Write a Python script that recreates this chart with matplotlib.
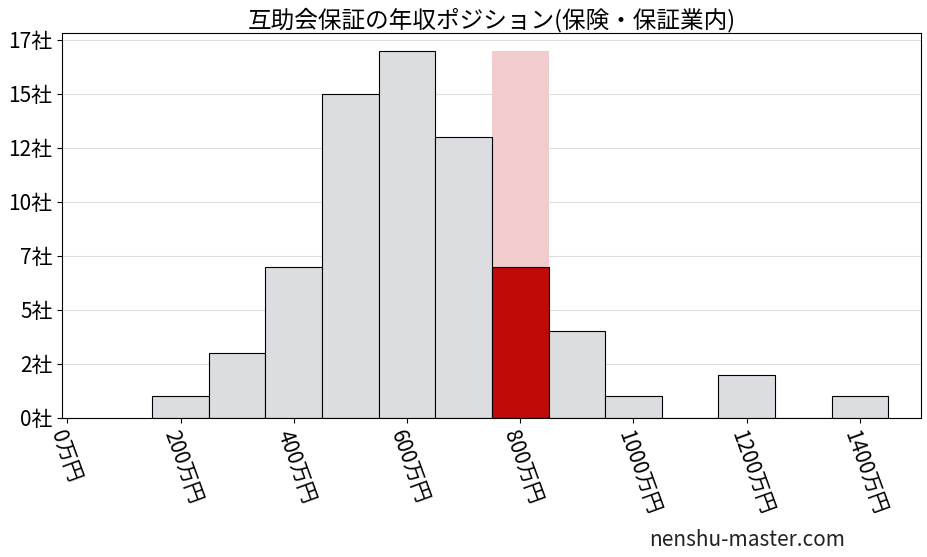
import numpy as np
import matplotlib
matplotlib.use('Agg')
import matplotlib.pyplot as plt

plt.rcParams['font.family'] = ['Noto Sans CJK JP', 'DejaVu Sans']

centers = [200, 300, 400, 500, 600, 700, 800, 900, 1000, 1100, 1200, 1300, 1400]
counts = [1, 3, 7, 15, 17, 13, 7, 4, 1, 0, 2, 0, 1]
highlight_center = 800
highlight_total = 17
xticks = [0, 200, 400, 600, 800, 1000, 1200, 1400]
xlabels = ['%d万円' % v for v in xticks]
yticks = [0, 2.5, 5, 7.5, 10, 12.5, 15, 17.5]
ylabels = ['%d社' % int(v) for v in yticks]

fig, ax = plt.subplots(figsize=(9.28, 5.57), dpi=100)
fig.subplots_adjust(left=0.067, right=0.992, top=0.94, bottom=0.25)

ax.bar(highlight_center, highlight_total, width=100, color='#f2cccc', zorder=1)
colors = ['#c00a0a' if c == highlight_center else '#dcdde0' for c in centers]
ax.bar(centers, counts, width=100, color=colors, edgecolor='black', linewidth=0.8, zorder=2)

ax.set_xlim(-9, 1507)
ax.set_ylim(0, 17.8)
ax.set_yticks(yticks)
ax.set_yticklabels(ylabels, fontsize=15)
ax.set_xticks(xticks)
ax.set_xticklabels(xlabels, fontsize=15, rotation=-70, ha='left', rotation_mode='anchor')
ax.yaxis.grid(True, color='#dddddd', linewidth=0.8, zorder=0)
ax.set_axisbelow(True)
ax.set_title('互助会保証の年収ポジション(保険・保証業内)', fontsize=17, pad=4)
fig.text(0.70, 0.02, 'nenshu-master.com', fontsize=15, color='#222222')

fig.savefig('out.png')
